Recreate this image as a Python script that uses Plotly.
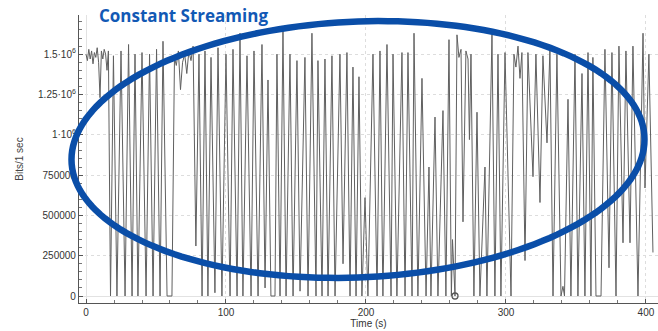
import numpy as np
import plotly.graph_objects as go

# Throughput trace: vertices of the measured bit rate (time in s, bits per 1 s window)
time_s = [
    0, 1, 2, 3, 4, 5, 6, 7, 8, 9, 10, 11, 12, 13, 14, 15, 16, 17.5,
    19.6, 22.1, 25.0, 27.9, 30.4, 32.9, 35.0, 37.1, 40.0, 42.9, 45.4, 47.9,
    50.4, 52.9, 55.0, 57.9, 61.4, 63.2,
    64.5, 66, 67.5, 69, 70.5, 72, 73.5, 75, 76.5, 78.5, 80.7, 82.9,
    85.0, 87.1, 89.3, 92.1, 94.3, 97.1, 100.0, 102.9, 105.0, 107.9, 110.0, 112.1,
    115.0, 117.9, 120.0, 122.9, 125.7, 127.9, 130.0, 132.1, 135.0, 136.4, 138.6,
    140.7, 142.9, 145.7, 147.9, 150.7, 152.9, 156.4, 158.6, 161.4, 164.3, 165.7,
    168.6, 170.7, 172.9, 175.7, 177.9, 181.4, 183.6, 186.4, 188.6, 190.7, 192.9,
    195.0, 197.1, 199.3, 201.4, 205.0,
    207.9, 210.0, 212.1, 215.0, 217.9, 219.3, 222.1, 225.7, 227.9, 230.0, 232.9,
    234.3, 237.1, 240.0, 242.9, 245.0, 246.4, 249.3, 251.4, 255.0, 257.1, 259.3,
    261.0, 261.8, 263.6, 265.0, 266.4, 267.9, 269.3, 271.4, 272.9, 273.9, 275.0,
    277.1, 279.3, 281.4, 285.0, 286.4, 290.0, 292.1, 294.3, 296.4, 299.3,
    303.6, 305.7, 307.1, 308.6, 310.0, 311.4, 313.6, 315.7, 319.3, 321.4, 324.3,
    326.4, 329.3, 331.4, 333.6, 336.4, 339.3, 340.7, 341.8, 344.3, 346.4, 349.3,
    351.4, 354.3, 356.4, 358.6, 360.7, 362.1, 364.3, 367.9, 370.7, 373.6, 375.7,
    378.6, 380.7, 383.6, 385.7, 388.6, 390.7, 394.3, 397.9, 399.3, 402.1, 405.0,
]
bits_per_sec = [
    1500000, 1460000, 1530000, 1470000, 1520000, 1440000, 1510000, 1480000,
    1540000, 1450000, 1230000, 1520000, 1470000, 1530000, 1500000, 1400000,
    1520000, 0,
    1490000, 0, 1520000, 0, 1560000, 0, 1500000, 0, 1510000, 0, 1500000, 0,
    1530000, 0, 1580000, 0, 0, 1480000,
    1430000, 1520000, 1280000, 1450000, 1500000, 1380000, 1520000, 1460000,
    1550000, 310000, 1500000, 0,
    1520000, 0, 1480000, 20000, 1540000, 0, 1500000, 0, 1530000, 0, 1630000, 0,
    1490000, 0, 1520000, 0, 1560000, 50000, 1340000, 0, 0, 1500000, 0,
    1650000, 0, 1500000, 0, 1460000, 30000, 1480000, 0, 1630000, 0, 1460000,
    0, 1470000, 0, 1490000, 0, 1500000, 200000, 1510000, 0, 1420000, 0,
    1360000, 0, 610000, 0, 1500000,
    0, 1520000, 0, 1560000, 0, 1500000, 0, 1510000, 0, 1510000, 0,
    1630000, 0, 1350000, 0, 800000, 0, 1110000, 0, 1150000, 0, 1590000,
    0, 350000, 0, 1620000, 1480000, 1530000, 460000, 1520000, 1470000, 970000, 1500000,
    0, 1140000, 0, 800000, 0, 1620000, 0, 1500000, 0, 1510000,
    0, 1500000, 1420000, 1550000, 1350000, 1510000, 220000, 1510000, 740000, 1500000, 580000,
    1490000, 950000, 1530000, 0, 1500000, 0, 60000, 0, 1220000, 0, 1500000,
    0, 1380000, 0, 1510000, 0, 1480000, 0, 0, 1530000, 175000, 1510000,
    0, 1550000, 330000, 1520000, 330000, 1550000, 0, 1630000, 670000, 1500000, 270000,
]

# Highlighted sample
marker_time = [263.6]
marker_bits = [0]

y_tickvals = [0, 250000, 500000, 750000, 1000000, 1250000, 1500000]
y_ticktext = ["0", "250000", "500000", "750000",
              "1·10<sup>6</sup>", "1.25·10<sup>6</sup>", "1.5·10<sup>6</sup>"]
x_tickvals = [0, 100, 200, 300, 400]

X_RANGE = [-5, 408.6]
Y_RANGE = [-43400, 1743000]

W, H = 658, 331
M_L, M_R, M_T, M_B = 79, 0, 15, 28

fig = go.Figure()
fig.add_trace(go.Scatter(
    x=time_s, y=bits_per_sec, mode="lines",
    line=dict(color="#606060", width=1),
    hoverinfo="skip", showlegend=False,
))
fig.add_trace(go.Scatter(
    x=marker_time, y=marker_bits, mode="markers",
    marker=dict(symbol="circle-open", size=6, color="#555555", line=dict(width=1.3)),
    showlegend=False, cliponaxis=False,
))

# Highlight ellipse drawn in paper coordinates (pixel geometry -> paper)
pw, ph = W - M_L - M_R, H - M_T - M_B
cx, cy, half_w, half_h, skew = 358.0, 149.5, 286.5, 128.0, -0.035
ang = np.linspace(0, 2 * np.pi, 181)
px = cx + half_w * np.cos(ang)
py = cy + skew * half_w * np.cos(ang) + half_h * np.sin(ang)
u = (px - M_L) / pw
v = 1 - (py - M_T) / ph
path = "M " + " L ".join(f"{a:.5f},{b:.5f}" for a, b in zip(u, v)) + " Z"
fig.add_shape(type="path", path=path, xref="paper", yref="paper",
              line=dict(color="#0a4ea8", width=6.5), layer="above")

fig.add_annotation(
    text="<b>Constant Streaming</b>", xref="paper", yref="paper",
    x=(97 - M_L) / pw, y=1 - (15 - M_T) / ph, xanchor="left", yanchor="middle",
    showarrow=False, font=dict(family="Open Sans", size=17, color="#1259b5"),
)

axis_font = dict(family="Liberation Sans, Arial", size=10, color="#333333")

fig.update_xaxes(
    range=X_RANGE, tickvals=x_tickvals, ticks="inside", ticklen=4,
    tickcolor="#555555", tickfont=axis_font,
    showline=True, linecolor="#555555", linewidth=1.2,
    showgrid=True, gridcolor="#dddddd", griddash="dot", gridwidth=1,
    zeroline=True, zerolinecolor="#e2e2e2", zerolinewidth=1,
    minor=dict(dtick=20, tick0=0, ticks="inside", ticklen=3, tickcolor="#777777", showgrid=False),
    title=dict(text="Time (s)", font=dict(family="Liberation Sans, Arial", size=10, color="#333333"),
               standoff=2),
)
fig.update_yaxes(
    range=Y_RANGE, tickvals=y_tickvals, ticktext=y_ticktext, ticks="inside", ticklen=4,
    tickcolor="#555555", tickfont=axis_font,
    showline=True, linecolor="#555555", linewidth=1.2,
    showgrid=True, gridcolor="#dddddd", griddash="dot", gridwidth=1,
    zeroline=True, zerolinecolor="#e2e2e2", zerolinewidth=1,
    minor=dict(dtick=50000, tick0=0, ticks="inside", ticklen=3, tickcolor="#777777", showgrid=False),
    title=dict(text="Bits/1 sec", font=dict(family="Liberation Sans, Arial", size=10, color="#444444"),
               standoff=12),
)

fig.update_layout(
    width=W, height=H, margin=dict(l=M_L, r=M_R, t=M_T, b=M_B),
    paper_bgcolor="white", plot_bgcolor="white", showlegend=False,
)

fig.write_html("out.html")
